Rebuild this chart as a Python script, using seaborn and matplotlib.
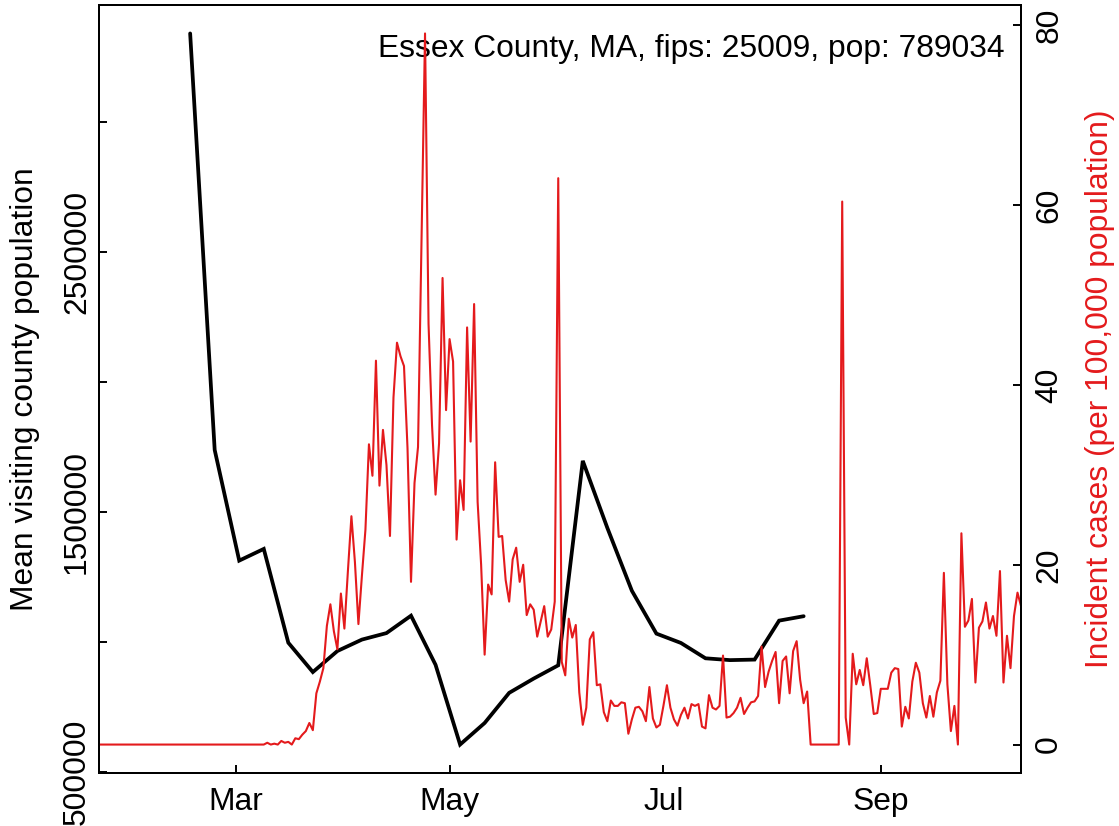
"""
Essex County, MA: mean visiting county population (weekly) vs
incident COVID cases per 100,000 (daily), on twin y axes.
"""

import numpy as np
import pandas as pd
import seaborn as sns
import matplotlib.pyplot as plt
import matplotlib.dates as mdates

# ---- data ----
case_start = "2020-01-22"
cases_per_100k = (
    [0.0] * 47
    + [0, 0.2, 0, 0.1, 0, 0.4, 0.2, 0.3, 0, 0.7, 0.6, 1.1, 1.5, 2.4, 1.6]
    + [5.7, 7.0, 8.5, 13.2, 15.6, 12.6, 10.6, 16.8, 12.9, 19.3, 25.4, 20.3, 13.4,
       18.8, 23.9, 33.4, 29.9, 42.7, 28.8, 35.0, 31.1, 23.2, 38.6, 44.7, 43.2, 42.1]
    + [33, 18.1, 29.1, 33.1, 56, 79.1, 46.8, 35.5, 27.8, 33.5, 51.9, 37.2, 45.1,
       42.6, 22.8, 29.4, 26.1, 46.4, 33.7, 49, 27, 20, 10, 17.8, 16.7, 31.4, 23.1,
       23.2, 18.3, 15.9, 20.6, 21.9, 18.1, 20, 14.4, 15.6, 15, 12, 13.7, 15.4, 12,
       12.8, 15.9, 63]
    + [9.2, 7.7, 14.0, 11.9, 13.3, 5.8, 2.2, 4.1, 11.7, 12.5, 6.6, 6.7, 3.6, 2.6,
       4.9, 4.3, 4.3, 4.7, 4.6, 1.2, 2.8, 4.1, 4.2, 3.7, 2.6, 6.4, 2.9, 1.9, 2.2,
       4.3, 6.6, 4.1, 2.8, 2.1, 3.3, 4.1, 2.9, 4.5, 4.3, 4.5, 2.0, 1.8, 5.5, 4.1,
       3.9, 4.3]
    + [9.9, 3, 3.1, 3.5, 4.1, 5.2, 3.4, 4.1, 4.7, 4.8, 5.4, 10.9, 6.4, 8.1, 9.3,
       10.3, 4.6, 9.3, 9.8, 5.7, 10.4, 11.5, 7.2, 4.6, 5.9]
    + [0.0] * 9
    + [60.4, 3, 0, 10.1, 6.7, 8.3, 6.6, 9.6, 6.6, 3.4, 3.5, 6.2, 6.2, 6.2, 8, 8.5,
       8.4, 2, 4.2, 2.9, 7, 9.1, 8, 4.6, 3, 5.4, 3.1, 5.8, 7.1, 19.1, 6.7, 1.5, 4.3,
       0, 23.5, 13.1, 13.8, 16.2, 6.9, 13, 13.7, 15.8, 12.9, 14.3, 12.1, 19.3, 6.9,
       12.1, 8.5, 14.3, 16.9, 15.4]
)

visit_start = "2020-02-17"
mean_visiting_pop = [3341000, 1738000, 1312000, 1357000, 996000, 883000, 964000,
                     1008000, 1033000, 1100000, 911000, 604000, 687000, 803000,
                     858000, 909000, 1696000, 1438000, 1196000, 1031000, 995000,
                     936000, 929000, 931000, 1081000, 1098000]

left_ticks = [500000, 1000000, 1500000, 2000000, 2500000, 3000000]
left_tick_labels = ["500000", "", "1500000", "", "2500000", ""]
right_ticks = [0, 20, 40, 60, 80]
month_ticks = ["2020-03-01", "2020-05-01", "2020-07-01", "2020-09-01"]

county_label = "Essex County, MA, fips: 25009, pop: 789034"
left_label = "Mean visiting county population"
right_label = "Incident cases (per 100,000 population)"

RED = "#E41A1C"
FS = 22.9

sns.set_style("white")
plt.rcParams["font.family"] = ["Liberation Sans", "DejaVu Sans"]
plt.rcParams["text.color"] = "black"
plt.rcParams["axes.labelcolor"] = "black"
plt.rcParams["xtick.color"] = "black"
plt.rcParams["ytick.color"] = "black"

cases = pd.DataFrame({
    "date": pd.date_range(case_start, periods=len(cases_per_100k), freq="D"),
    "cases": cases_per_100k,
})
visits = pd.DataFrame({
    "date": pd.date_range(visit_start, periods=len(mean_visiting_pop), freq="7D"),
    "pop": mean_visiting_pop,
})

fig = plt.figure(figsize=(11.19, 8.26), dpi=100)
ax = fig.add_axes([99 / 1119, 53 / 826, 922 / 1119, 768 / 826])

sns.lineplot(data=visits, x="date", y="pop", ax=ax, color="black",
             linewidth=2.7, solid_joinstyle="miter")
ax2 = ax.twinx()
sns.lineplot(data=cases, x="date", y="cases", ax=ax2, color=RED, linewidth=1.5)

# R-style 4% padding on y, none on x
ax.set_xlim(cases["date"].iloc[0], cases["date"].iloc[-1])
lo, hi = visits["pop"].min(), visits["pop"].max()
ax.set_ylim(lo - 0.04 * (hi - lo), hi + 0.04 * (hi - lo))
lo, hi = cases["cases"].min(), cases["cases"].max()
ax2.set_ylim(lo - 0.04 * (hi - lo), hi + 0.04 * (hi - lo))

# x axis
ax.set_xticks(pd.to_datetime(month_ticks))
ax.xaxis.set_major_formatter(mdates.DateFormatter("%b"))
ax.set_xlabel("")

# left axis
ax.set_yticks(left_ticks)
ax.set_yticklabels(left_tick_labels, rotation=90, va="center")
ax.set_ylabel(left_label, fontsize=FS, color="black")
ax.yaxis.set_label_coords(-0.064, 0.5)

# right axis
ax2.set_yticks(right_ticks)
ax2.set_yticklabels([str(t) for t in right_ticks], rotation=90, va="center")
ax2.set_ylabel(right_label, fontsize=FS, color=RED)
ax2.yaxis.set_label_coords(1.069, 0.5)

ax.tick_params(axis="x", direction="in", length=6, width=1.4, pad=10,
               labelsize=FS, bottom=True, colors="black")
ax.tick_params(axis="y", direction="in", length=6, width=1.4, pad=5,
               labelsize=FS, left=True, colors="black")
ax2.tick_params(axis="y", direction="in", length=6, width=1.4, pad=9.5,
                labelsize=FS, right=True, colors="black")

for a in (ax, ax2):
    for s in a.spines.values():
        s.set_visible(True)
        s.set_color("black")
        s.set_linewidth(1.4)

ax.text(0.9826, 0.9323, county_label, transform=ax.transAxes,
        ha="right", va="baseline", fontsize=FS, color="black")

fig.savefig("out.png", dpi=100)
